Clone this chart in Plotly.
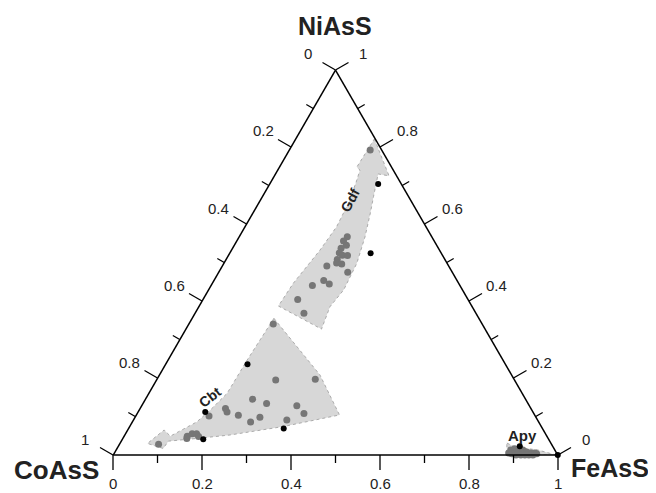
import plotly.graph_objects as go

# ---------------- data (mole fractions: NiAsS, CoAsS, FeAsS) ----------------
tick_vals = [0.0, 0.2, 0.4, 0.6, 0.8, 1.0]
tick_text = ["0", "0.2", "0.4", "0.6", "0.8", "1"]
minor_vals = [0.1, 0.3, 0.5, 0.7, 0.9]

# grey analyses
gray_ni = [0.792, 0.567, 0.556, 0.545, 0.537, 0.525, 0.519, 0.518, 0.508, 0.499, 0.496, 0.491,
           0.475, 0.453, 0.444, 0.440, 0.404, 0.368,
           0.340, 0.195, 0.197, 0.145, 0.134, 0.128, 0.108, 0.121, 0.112, 0.103, 0.098, 0.086,
           0.091, 0.101, 0.049, 0.055, 0.055, 0.048, 0.043, 0.028,
           0.013, 0.016, 0.010, 0.013, 0.008, 0.005, 0.005, 0.003, 0.000, 0.000, 0.000, 0.000,
           0.000, 0.003, 0.005]
gray_co = [0.026, 0.190, 0.204, 0.203, 0.219, 0.229, 0.225, 0.214, 0.242, 0.248, 0.238, 0.274,
           0.235, 0.300, 0.292, 0.332, 0.383, 0.387,
           0.470, 0.537, 0.447, 0.614, 0.588, 0.523, 0.517, 0.687, 0.688, 0.667, 0.621, 0.648,
           0.564, 0.734, 0.809, 0.795, 0.785, 0.784, 0.813, 0.884,
           0.099, 0.089, 0.083, 0.072, 0.066, 0.058, 0.049, 0.102, 0.094, 0.083, 0.074, 0.065,
           0.056, 0.046, 0.108]
gray_fe = [0.182, 0.243, 0.240, 0.252, 0.244, 0.246, 0.256, 0.268, 0.250, 0.253, 0.266, 0.235,
           0.290, 0.247, 0.264, 0.228, 0.213, 0.245,
           0.190, 0.268, 0.356, 0.241, 0.278, 0.349, 0.375, 0.192, 0.200, 0.230, 0.281, 0.266,
           0.345, 0.165, 0.142, 0.150, 0.160, 0.168, 0.144, 0.088,
           0.888, 0.895, 0.907, 0.915, 0.926, 0.937, 0.946, 0.895, 0.906, 0.917, 0.926, 0.935,
           0.944, 0.951, 0.887]

# black analyses
black_ni = [0.704, 0.524, 0.236, 0.069, 0.112, 0.041, 0.023, 0.000]
black_co = [0.052, 0.159, 0.580, 0.582, 0.737, 0.777, 0.074, 0.000]
black_fe = [0.244, 0.317, 0.184, 0.349, 0.151, 0.182, 0.903, 1.000]

# trend fields (arrows)
gdf_ni = [0.821, 0.725, 0.730, 0.671, 0.629, 0.567, 0.498, 0.429, 0.385, 0.327,
          0.387, 0.446, 0.532, 0.593, 0.654, 0.709, 0.740, 0.748, 0.821]
gdf_co = [0.002, 0.017, 0.039, 0.079, 0.107, 0.150, 0.203, 0.267, 0.320, 0.368,
          0.435, 0.372, 0.269, 0.201, 0.144, 0.099, 0.075, 0.078, 0.002]
gdf_fe = [0.177, 0.258, 0.231, 0.250, 0.264, 0.283, 0.299, 0.304, 0.295, 0.305,
          0.178, 0.182, 0.199, 0.206, 0.202, 0.192, 0.185, 0.174, 0.177]

cbt_ni = [0.355, 0.208, 0.104, 0.074, 0.052, 0.043, 0.036, 0.017, 0.030, 0.065,
          0.049, 0.086, 0.117, 0.160, 0.247, 0.355]
cbt_co = [0.461, 0.431, 0.439, 0.580, 0.711, 0.790, 0.858, 0.879, 0.908, 0.853,
          0.847, 0.769, 0.723, 0.664, 0.575, 0.461]
cbt_fe = [0.184, 0.361, 0.457, 0.346, 0.237, 0.167, 0.106, 0.104, 0.062, 0.082,
          0.104, 0.145, 0.160, 0.176, 0.178, 0.184]

apy_ni = [0.031, 0.021, 0.013, 0.003, 0.000, 0.000, 0.031]
apy_co = [0.099, 0.086, 0.038, 0.012, 0.004, 0.115, 0.099]
apy_fe = [0.870, 0.893, 0.949, 0.985, 0.996, 0.885, 0.870]

field_labels = ["Gdf", "Cbt", "Apy"]
corner_titles = ["NiAsS", "CoAsS", "FeAsS"]

# ---------------- geometry helpers ----------------
PAGE_OFFSET = 8            # browser body margin
W, H = 656 - PAGE_OFFSET, 493 - PAGE_OFFSET
ML, MT = 113 - PAGE_OFFSET, 70 - PAGE_OFFSET
TRI_W, TRI_H = 445, 385
MR, MB = W - ML - TRI_W, H - MT - TRI_H


def to_paper(a, b, c, dx_px=0.0, dy_px=0.0):
    s = a + b + c
    a, c = a / s, c / s
    return c + a / 2 + dx_px / TRI_W, a + dy_px / TRI_H


# outward unit normals (pixel space, y up) of the three edges
N_BOTTOM = (0.0, -1.0)
N_LEFT = (-0.8660254, 0.5)
N_RIGHT = (0.8660254, 0.5)


def edge_points(v):
    # bottom edge labelled with FeAsS, left edge with CoAsS, right edge with NiAsS
    return [((0, 1 - v, v), N_BOTTOM), ((1 - v, v, 0), N_LEFT), ((v, 0, 1 - v), N_RIGHT)]


fig = go.Figure()

FILL = "#d7d7d7"
EDGE = "#9a9a9a"
for ni, co, fe in [(gdf_ni, gdf_co, gdf_fe), (cbt_ni, cbt_co, cbt_fe), (apy_ni, apy_co, apy_fe)]:
    fig.add_trace(go.Scatterternary(a=ni, b=co, c=fe, mode="lines", fill="toself",
                                    fillcolor=FILL, line=dict(color=EDGE, width=0.8, dash="dot"),
                                    hoverinfo="skip", cliponaxis=False))

fig.add_trace(go.Scatterternary(a=gray_ni, b=gray_co, c=gray_fe, mode="markers",
                                marker=dict(size=7, color="#767676", line=dict(width=0)),
                                cliponaxis=False))
fig.add_trace(go.Scatterternary(a=black_ni, b=black_co, c=black_fe, mode="markers",
                                marker=dict(size=6, color="black", line=dict(width=0)),
                                cliponaxis=False))

axis_common = dict(ticks="", showticklabels=False, linecolor="black", linewidth=1.5,
                   showgrid=False, showline=True, title=dict(text=""))

fig.update_layout(
    width=W, height=H,
    paper_bgcolor="white", plot_bgcolor="white",
    margin=dict(l=ML, r=MR, t=MT, b=MB, pad=0),
    showlegend=False,
    ternary=dict(sum=1, bgcolor="white", domain=dict(x=[0, 1], y=[0, 1]),
                 aaxis=axis_common, baxis=axis_common, caxis=axis_common),
)

# tick marks, perpendicular to each edge and pointing outward
for values, length in [(minor_vals, 8), (tick_vals, 15)]:
    for v in values:
        for (a, b, c), (nx, ny) in edge_points(v):
            x0, y0 = to_paper(a, b, c)
            x1, y1 = to_paper(a, b, c, nx * length, ny * length)
            fig.add_shape(type="line", xref="paper", yref="paper", x0=x0, y0=y0, x1=x1, y1=y1,
                          line=dict(color="black", width=1.3))

# tick labels
tick_font = dict(family="Arial", size=15, color="#222222")
for v, t in zip(tick_vals, tick_text):
    for (a, b, c), (nx, ny) in edge_points(v):
        r = 29 if ny < 0 else 32
        x, y = to_paper(a, b, c, nx * r, ny * r)
        fig.add_annotation(text=t, x=x, y=y, xref="paper", yref="paper", showarrow=False,
                           font=tick_font, xanchor="center", yanchor="middle")

title_font = dict(family="Arial", size=25, color="#222222")
fig.add_annotation(text=f"<b>{corner_titles[0]}</b>", x=0.4978, y=1.113, xref="paper", yref="paper",
                   showarrow=False, font=title_font, xanchor="center", yanchor="middle")
fig.add_annotation(text=f"<b>{corner_titles[1]}</b>", x=-0.126, y=-0.039, xref="paper", yref="paper",
                   showarrow=False, font=dict(title_font, size=26), xanchor="center", yanchor="middle")
fig.add_annotation(text=f"<b>{corner_titles[2]}</b>", x=1.117, y=-0.034, xref="paper", yref="paper",
                   showarrow=False, font=title_font, xanchor="center", yanchor="middle")

lab_font = dict(family="Arial", size=14, color="#222222")
fig.add_annotation(text=f"<b>{field_labels[0]}</b>", x=0.533, y=0.662, xref="paper", yref="paper",
                   showarrow=False, font=lab_font, textangle=-62, xanchor="center", yanchor="middle")
fig.add_annotation(text=f"<b>{field_labels[1]}</b>", x=0.218, y=0.151, xref="paper", yref="paper",
                   showarrow=False, font=lab_font, textangle=-38, xanchor="center", yanchor="middle")
fig.add_annotation(text=f"<b>{field_labels[2]}</b>", x=0.921, y=0.051, xref="paper", yref="paper",
                   showarrow=False, font=dict(lab_font, size=15), xanchor="center", yanchor="middle")

fig.write_html("out.html")
